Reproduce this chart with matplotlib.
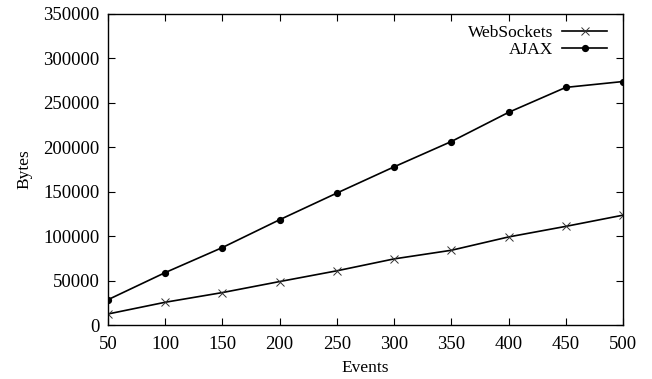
import matplotlib
matplotlib.use("Agg")
import matplotlib.pyplot as plt

# data
events = [50, 100, 150, 200, 250, 300, 350, 400, 450, 500]
websockets = [12400, 25600, 36500, 48900, 61000, 74400, 84100, 99100, 111000, 123600]
ajax = [28500, 59000, 87200, 118500, 148500, 178000, 206500, 239300, 267400, 274000]

plt.rcParams['font.family'] = ['Liberation Serif', 'DejaVu Serif']
plt.rcParams['font.size'] = 12.5

fig = plt.figure(figsize=(6.52, 3.79), dpi=100)
ax = fig.add_axes([108 / 652, 1 - 325 / 379, 515 / 652, 311 / 379])

ax.plot(events, websockets, color='black', lw=1.2, marker='x', ms=6,
        mew=0.7, mec='#333333', label='WebSockets')
ax.plot(events, ajax, color='black', lw=1.2, marker='o', ms=4.2,
        label='AJAX')

ax.set_xlim(50, 500)
ax.set_ylim(0, 350000)
ax.set_xticks(events)
ax.set_yticks(range(0, 350001, 50000))
ax.tick_params(direction='in', top=True, right=True, length=5, width=0.8,
               labelsize=13.5)
ax.tick_params(axis='x', pad=8)
ax.tick_params(axis='y', pad=6)
for s in ax.spines.values():
    s.set_linewidth(1.0)

ax.set_xlabel('Events', labelpad=5)
ax.set_ylabel('Bytes', labelpad=8)

ax.legend(loc='upper right', bbox_to_anchor=(1.0, 1.016), frameon=False,
          markerfirst=False, handlelength=2.6, handletextpad=0.5,
          labelspacing=0.05, borderaxespad=0.5, fontsize=12.5)

fig.savefig('out.png', dpi=100)
